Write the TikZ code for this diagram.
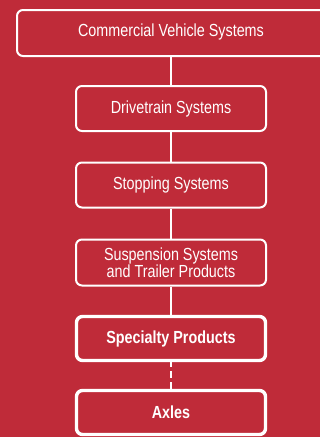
\documentclass[tikz,border=0pt]{standalone}
\usepackage{fontspec}
\setmainfont{Liberation Sans}[FakeStretch=0.82]
\definecolor{bgred}{HTML}{BF2B39}
\begin{document}
\begin{tikzpicture}[x=1pt,y=-1pt,
  txt/.style={text=white,font=\fontsize{17.5}{16.5}\selectfont,align=center,inner sep=0pt},
  box/.style={txt,draw=white,line width=2pt,rounded corners=6pt},
  boldbox/.style={box,line width=3.4pt,font=\fontsize{17.5}{16.5}\selectfont\bfseries},
  link/.style={draw=white,line width=2pt}]
\clip (0,0) rectangle (320,437);
\fill[bgred] (0,0) rectangle (320,437);
\node[box,minimum width=316pt,minimum height=46pt,anchor=north west] (cvs) at (16,9) {};
\node[txt] (cvst) at (171,32) {Commercial Vehicle Systems};
\node[box,minimum width=190pt,minimum height=45pt] (dt) at (171,108.5) {Drivetrain Systems};
\node[box,minimum width=190pt,minimum height=45pt] (ss) at (171,185) {Stopping Systems};
\node[box,minimum width=190pt,minimum height=46pt] (sus) at (171,262.5) {Suspension Systems\\and Trailer Products};
\node[boldbox,minimum width=189pt,minimum height=44pt] (sp) at (171,338.5) {Specialty Products};
\node[boldbox,minimum width=189pt,minimum height=44pt] (ax) at (171,412.5) {Axles};
\draw[link] (cvs.south -| dt.north) -- (dt.north);
\draw[link] (dt) -- (ss);
\draw[link] (ss) -- (sus);
\draw[link] (sus) -- (sp);
\draw[link,dash pattern=on 7pt off 4pt] ([yshift=2pt]sp.south) -- (ax.north);
\end{tikzpicture}
\end{document}
